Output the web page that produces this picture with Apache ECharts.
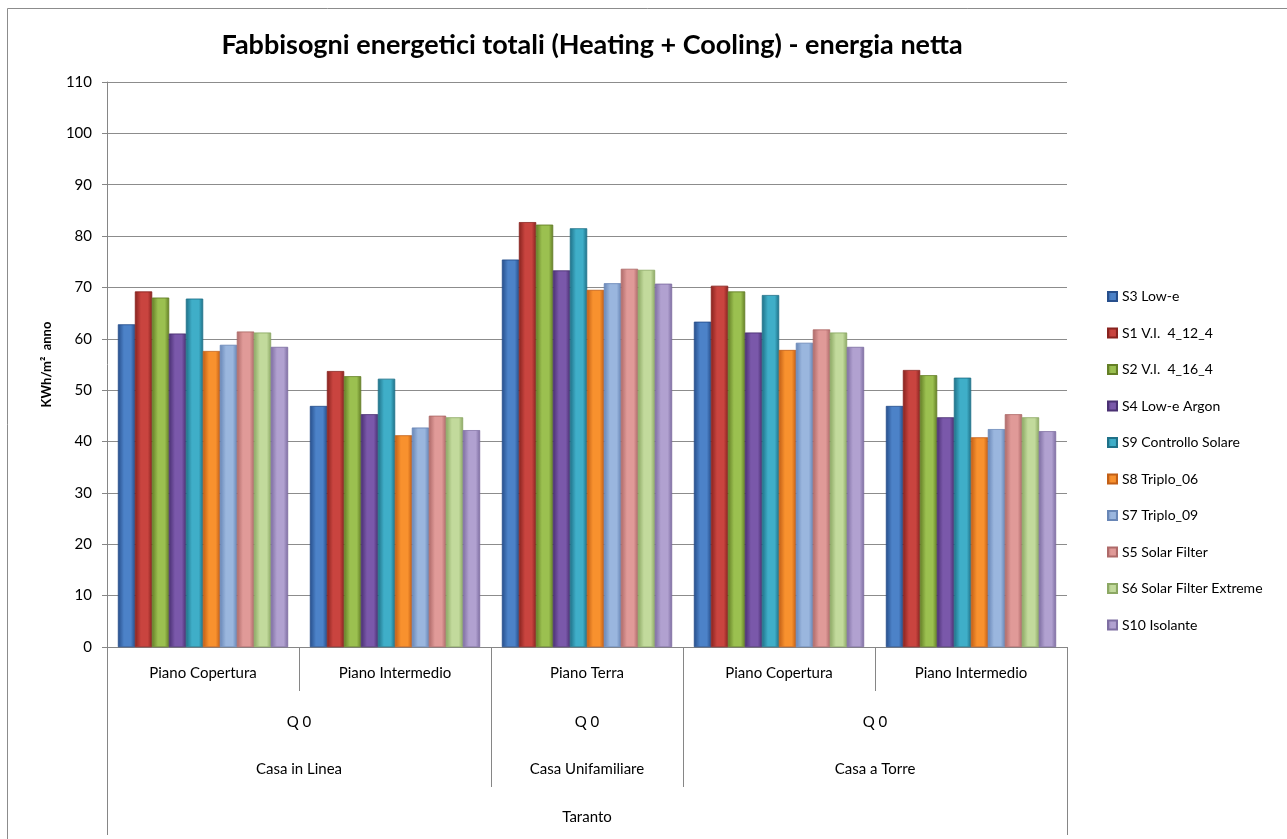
<!DOCTYPE html>
<html>
<head>
<meta charset="utf-8">
<script src="https://cdn.jsdelivr.net/npm/echarts@6/dist/echarts.min.js"></script>
<style>
html,body{margin:0;padding:0;background:#fff;}
#chart{width:1287px;height:839px;}
</style>
</head>
<body>
<div id="chart"></div>
<script>
// ---- data ----
const categories = ['Piano Copertura', 'Piano Intermedio', 'Piano Terra', 'Piano Copertura', 'Piano Intermedio'];
const q0Labels = ['Q 0', 'Q 0', 'Q 0'];
const q0Spans = [2, 1, 2];
const houseLabels = ['Casa in Linea', 'Casa Unifamiliare', 'Casa a Torre'];
const cityLabels = ['Taranto'];
const yTicks = [0, 10, 20, 30, 40, 50, 60, 70, 80, 90, 100, 110];

const seriesNames = ['S3 Low-e', 'S1 V.I.  4_12_4', 'S2 V.I.  4_16_4', 'S4 Low-e Argon', 'S9 Controllo Solare',
  'S8 Triplo_06', 'S7 Triplo_09', 'S5 Solar Filter', 'S6 Solar Filter Extreme', 'S10 Isolante'];
const s3 = [62.8, 46.9, 75.4, 63.3, 46.9];
const s1 = [69.2, 53.7, 82.7, 70.3, 53.9];
const s2 = [68.0, 52.7, 82.2, 69.2, 52.9];
const s4 = [61.0, 45.3, 73.3, 61.2, 44.7];
const s9 = [67.8, 52.2, 81.5, 68.5, 52.4];
const s8 = [57.6, 41.2, 69.5, 57.8, 40.8];
const s7 = [58.8, 42.7, 70.8, 59.2, 42.4];
const s5 = [61.4, 45.0, 73.6, 61.8, 45.3];
const s6 = [61.2, 44.7, 73.4, 61.2, 44.7];
const s10 = [58.4, 42.2, 70.7, 58.4, 42.0];
const seriesValues = [s3, s1, s2, s4, s9, s8, s7, s5, s6, s10];

// ---- styles ----
const lightColors = ['#4C82C8', '#C9443F', '#9BC050', '#7A58AA', '#3FAEC8', '#F8912E', '#9AB6DE', '#E09A98', '#C2DA9C', '#B1A1D0'];
const darkColors  = ['#274F8C', '#88231F', '#647F26', '#4A3073', '#1F7188', '#C25F16', '#6886B6', '#AE6A69', '#8CA864', '#7E6EA2'];
const FONT = 'Lato, "Open Sans", sans-serif';
const GRID = {left: 107, right: 220, top: 82, bottom: 192};

function grad(i) {
  return new echarts.graphic.LinearGradient(0, 0, 1, 0, [
    {offset: 0, color: darkColors[i]},
    {offset: 0.35, color: lightColors[i]},
    {offset: 0.75, color: lightColors[i]},
    {offset: 1, color: darkColors[i]}
  ]);
}

const chart = echarts.init(document.getElementById('chart'), null, {renderer: 'canvas'});

const option = {
  animation: false,
  backgroundColor: '#fff',
  title: {
    text: 'Fabbisogni energetici totali (Heating + Cooling) - energia netta',
    left: 587, top: 27, textAlign: 'center',
    textStyle: {fontFamily: FONT, fontSize: 27, fontWeight: 'bold', color: '#000'}
  },
  legend: {
    orient: 'vertical', left: 1102, top: 284,
    itemWidth: 9, itemHeight: 9, itemGap: 21.5,
    icon: 'rect',
    textStyle: {fontFamily: FONT, fontSize: 14, color: '#000', lineHeight: 15},
    data: seriesNames
  },
  grid: GRID,
  xAxis: {
    type: 'category', data: categories,
    axisLine: {lineStyle: {color: '#868686'}},
    axisTick: {show: false},
    axisLabel: {fontFamily: FONT, fontSize: 15, color: '#000', margin: 19, interval: 0}
  },
  yAxis: {
    type: 'value', min: yTicks[0], max: yTicks[yTicks.length - 1], interval: 10,
    name: 'KWh/m²  anno', nameLocation: 'middle', nameRotate: 90, nameGap: 54,
    nameTextStyle: {fontFamily: FONT, fontSize: 13, fontWeight: 'bold', color: '#000'},
    axisLine: {show: true, lineStyle: {color: '#868686'}},
    axisTick: {show: true, length: 5, lineStyle: {color: '#868686'}},
    axisLabel: {fontFamily: FONT, fontSize: 15, color: '#000', margin: 15},
    splitLine: {lineStyle: {color: '#8C8C8C', width: 1}}
  },
  series: seriesNames.map((n, i) => ({
    name: n, type: 'bar', data: seriesValues[i],
    barGap: '0%', barCategoryGap: '11.5%',
    itemStyle: {color: grad(i), borderColor: darkColors[i], borderWidth: 0.5}
  }))
};
chart.setOption(option);

// ---- multi-level category axis drawn from axis scale ----
const c0 = chart.convertToPixel({xAxisIndex: 0}, 0);
const c1 = chart.convertToPixel({xAxisIndex: 0}, 1);
const band = c1 - c0;
const y0 = chart.convertToPixel({yAxisIndex: 0}, 0);
const bound = k => c0 - band / 2 + k * band;
const lineCol = '#868686';
const g = [];
function vline(x, y1, y2) {
  g.push({type: 'line', silent: true, shape: {x1: Math.round(x) + 0.5, y1: y1, x2: Math.round(x) + 0.5, y2: y2},
    style: {stroke: lineCol, lineWidth: 1}});
}
function label(text, x, y) {
  g.push({type: 'text', silent: true, x: x, y: y,
    style: {text: text, font: '15px ' + FONT, fill: '#000', align: 'center', verticalAlign: 'middle'}});
}
const groupBounds = [0];
q0Spans.forEach(s => groupBounds.push(groupBounds[groupBounds.length - 1] + s));
for (let k = 0; k <= categories.length; k++) {
  if (k === 0 || k === categories.length) vline(bound(k), y0, y0 + 188);
  else if (groupBounds.indexOf(k) >= 0) vline(bound(k), y0, y0 + 140);
  else vline(bound(k), y0, y0 + 44);
}
for (let j = 0; j < q0Labels.length; j++) {
  const xm = (bound(groupBounds[j]) + bound(groupBounds[j + 1])) / 2;
  label(q0Labels[j], xm, y0 + 75);
  label(houseLabels[j], xm, y0 + 122);
}
label(cityLabels[0], (bound(0) + bound(categories.length)) / 2, y0 + 170);
g.push({type: 'rect', silent: true, shape: {x: 7.5, y: 8.5, width: 1300, height: 900},
  style: {fill: null, stroke: '#8C8C8C', lineWidth: 1}});
chart.setOption({graphic: {elements: g}});
</script>
</body>
</html>
